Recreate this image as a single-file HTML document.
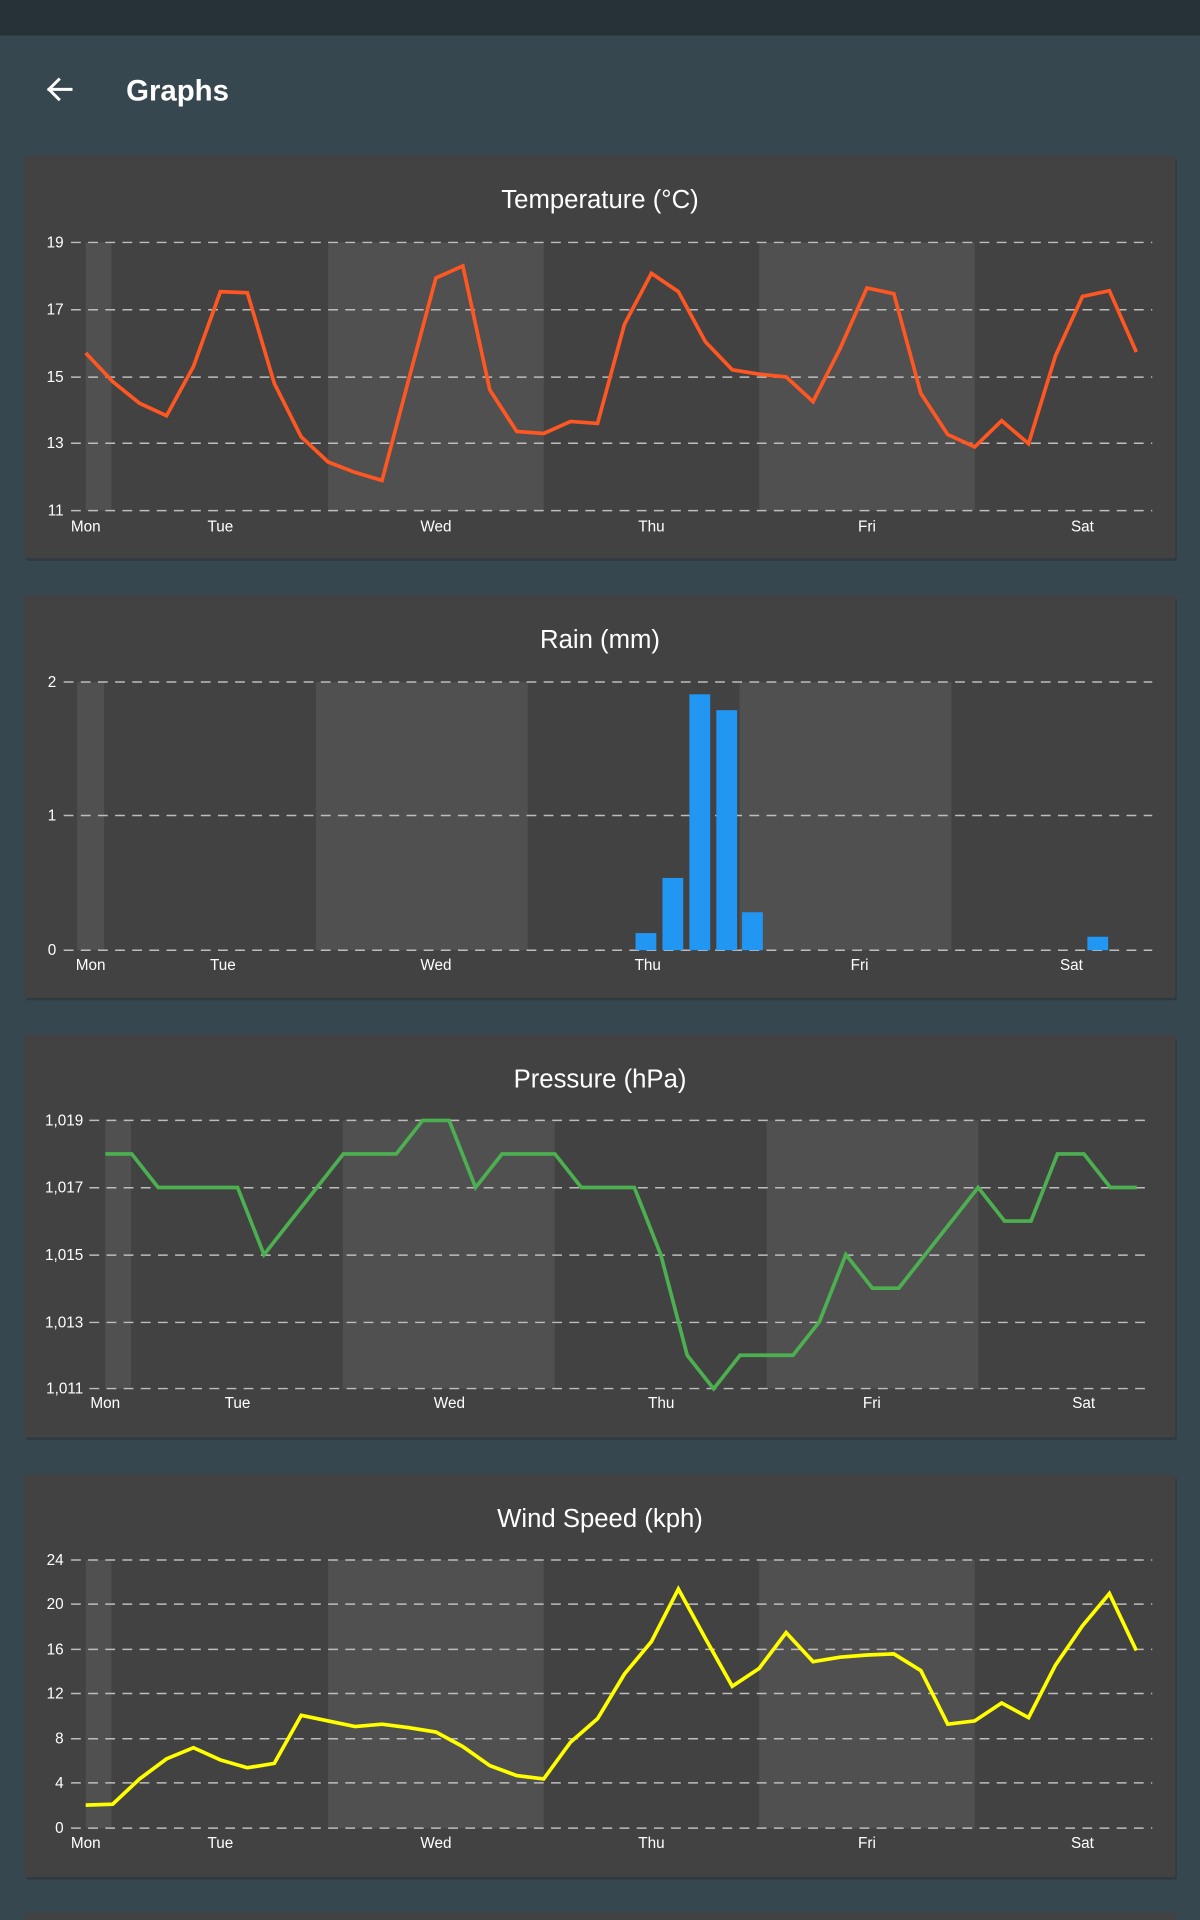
<!DOCTYPE html>
<html><head><meta charset="utf-8"><style>
html,body{margin:0;padding:0;background:#37474f;width:1200px;height:1920px;overflow:hidden}
svg{display:block}
text{font-family:"Liberation Sans",sans-serif}
</style></head><body>
<svg id="s" width="1200" height="1920" viewBox="0 0 980 1568" xmlns="http://www.w3.org/2000/svg">
<rect x="0" y="0" width="980" height="1568" fill="#37474f"/>
<rect x="0" y="0" width="980" height="29" fill="#263238"/>
<g stroke="#fff" stroke-width="2.4" fill="none" stroke-linecap="square"><line x1="40" y1="73" x2="58" y2="73"/><polyline points="48,65 40,73 48,81"/></g>
<text x="103" y="82" fill="#fff" font-size="24" font-weight="bold">Graphs</text>
</svg>
<script>
var s=document.getElementById('s'),NS='http://www.w3.org/2000/svg';
function el(t,a,txt){var e=document.createElementNS(NS,t);for(var k in a)e.setAttribute(k,a[k]);if(txt!==undefined)e.textContent=txt;s.appendChild(e);return e;}
function card(y0,title){
 el('rect',{x:21,y:y0+2,width:940,height:329,fill:'#2f3a40',rx:2});
 el('rect',{x:20,y:y0,width:940,height:329,fill:'#424242',rx:2});
 el('text',{x:490,y:y0+43,fill:'#fff','font-size':21,'text-anchor':'middle'},title);
}
function grid(ys,labels,lx,gx){
 ys.forEach(function(y,i){
  el('line',{x1:gx,y1:y,x2:941,y2:y,stroke:'#bdbdbd','stroke-width':1.2,'stroke-dasharray':'8,6'});
  el('text',{x:lx,y:y+4,fill:'#fff','font-size':12.5,'text-anchor':'end'},labels[i]);
 });
}
function shade(arr,y1,y2){arr.forEach(function(a){el('rect',{x:a[0],y:y1,width:a[1]-a[0],height:y2-y1,fill:'#505050'});});}
function days(xs,y){var n=['Mon','Tue','Wed','Thu','Fri','Sat'];xs.forEach(function(x,i){el('text',{x:x,y:y,fill:'#fff','font-size':12.5,'text-anchor':'middle'},n[i]);});}
function line(pts,c){el('polyline',{points:pts.map(function(p){return p[0].toFixed(1)+','+p[1].toFixed(1)}).join(' '),fill:'none',stroke:c,'stroke-width':3,'stroke-linejoin':'miter'});}

// Temperature
card(127,'Temperature (°C)');
shade([[70,91],[268,444],[620,796]],198,417);
grid([198,253,308,362,417],['19','17','15','13','11'],52,58);
days([70,180,356,532,708,884],434);
var T=[15.7,14.85,14.2,13.83,15.3,17.53,17.5,14.8,13.2,12.45,12.14,11.9,14.94,17.94,18.3,14.6,13.36,13.3,13.66,13.6,16.56,18.08,17.53,16.04,15.2,15.07,14.99,14.25,15.83,17.64,17.47,14.5,13.27,12.9,13.68,13.0,15.62,17.39,17.56,15.73];
line(T.map(function(v,i){return [70+22*i,198+(19-v)*27.375]}),'#ff5722');

// Rain
card(486,'Rain (mm)');
shade([[63,85],[258,431],[604,777]],557,776);
grid([557,666,776],['2','1','0'],46,52);
days([74,182,356,529,702,875],792);
[[519,762],[541,717],[563,567],[585,580],[606,745],[888,765]].forEach(function(b){el('rect',{x:b[0],y:b[1],width:17,height:776-b[1],fill:'#2196f3'});});

// Pressure
card(845,'Pressure (hPa)');
shade([[86,107],[280,453],[626,799]],915,1134);
grid([915,970,1025,1080,1134],['1,019','1,017','1,015','1,013','1,011'],68,73);
days([86,194,367,540,712,885],1150);
var P=[1018,1018,1017,1017,1017,1017,1015,1016,1017,1018,1018,1018,1019,1019,1017,1018,1018,1018,1017,1017,1017,1015,1012,1011,1012,1012,1012,1013,1015,1014,1014,1015,1016,1017,1016,1016,1018,1018,1017,1017];
line(P.map(function(v,i){return [86+21.6*i,915+(1019-v)*27.4]}),'#4caf50');

// Wind
card(1204,'Wind Speed (kph)');
shade([[70,91],[268,444],[620,796]],1274,1493);
grid([1274,1310,1347,1383,1420,1456,1493],['24','20','16','12','8','4','0'],52,58);
days([70,180,356,532,708,884],1509);
var W=[2.06,2.15,4.4,6.2,7.2,6.1,5.4,5.8,10.1,9.6,9.1,9.3,9.0,8.6,7.3,5.6,4.7,4.4,7.7,9.8,13.8,16.7,21.4,17.0,12.7,14.3,17.5,14.9,15.3,15.5,15.6,14.1,9.3,9.6,11.2,9.9,14.6,18.1,21.0,15.9];
line(W.map(function(v,i){return [70+22*i,1493-v*9.125]}),'#ffff00');

// next card peek
el('rect',{x:20,y:1562,width:940,height:20,fill:'#424242',rx:2});
</script>
</body></html>
